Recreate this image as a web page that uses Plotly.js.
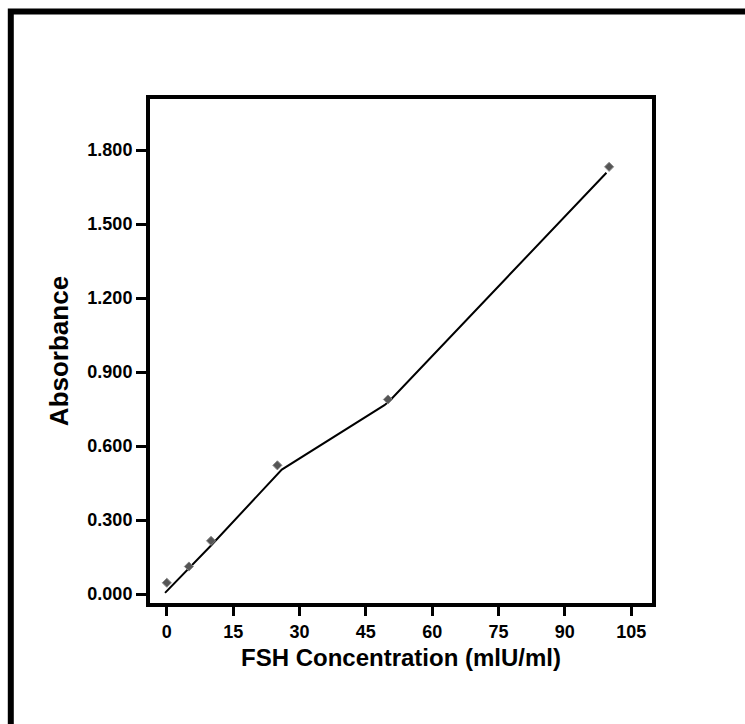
<!DOCTYPE html>
<html>
<head>
<meta charset="utf-8">
<script src="https://cdn.plot.ly/plotly-3.0.1.min.js"></script>
<style>
html,body{margin:0;padding:0;background:#fff;}
#chart{width:745px;height:724px;}
</style>
</head>
<body>
<div id="chart"></div>
<script>
// Measured standards
const concentration = [0, 5, 10, 25, 50, 100];
const absorbance = [0.046, 0.112, 0.216, 0.522, 0.789, 1.732];
// Fitted curve as drawn
const fitX = [-0.4, 10, 26, 49.2, 50.4, 99.4];
const fitY = [0.005, 0.197, 0.505, 0.766, 0.784, 1.708];
// Axis ticks
const xTicks = [0, 15, 30, 45, 60, 75, 90, 105];
const yTicks = [0, 0.3, 0.6, 0.9, 1.2, 1.5, 1.8];

const FONT = 'Liberation Sans Narrow, Arial Narrow, Liberation Sans, Arial, sans-serif';

const traces = [
  {
    x: fitX, y: fitY, mode: 'lines', type: 'scatter',
    line: {color: '#000', width: 2}, hoverinfo: 'skip', showlegend: false
  },
  {
    x: concentration, y: absorbance, mode: 'markers', type: 'scatter',
    marker: {symbol: 'diamond', size: 7, color: '#555', line: {color: '#888', width: 1}},
    showlegend: false
  }
];

const layout = {
  width: 745, height: 724,
  margin: {l: 150, r: 93, t: 99, b: 121},
  paper_bgcolor: '#fff', plot_bgcolor: '#fff',
  showlegend: false,
  font: {family: FONT, color: '#000'},
  xaxis: {
    range: [-3.8, 109.7],
    tickvals: xTicks,
    ticktext: xTicks.map(String),
    showgrid: false, zeroline: false,
    showline: true, linecolor: '#000', linewidth: 4, mirror: true,
    ticks: 'outside', ticklen: 9, tickwidth: 3, tickcolor: '#000',
    tickfont: {family: FONT, size: 18, weight: 'bold', color: '#000'},
    title: {text: 'FSH Concentration (mlU/ml)', font: {family: FONT, size: 24, weight: 'bold', color: '#000'}, standoff: 10}
  },
  yaxis: {
    range: [-0.036, 2.007],
    tickvals: yTicks,
    ticktext: yTicks.map(v => v.toFixed(3)),
    showgrid: false, zeroline: false,
    showline: true, linecolor: '#000', linewidth: 4, mirror: true,
    ticks: 'outside', ticklen: 10, tickwidth: 3, tickcolor: '#000',
    tickfont: {family: FONT, size: 18, weight: 'bold', color: '#000'},
    title: {text: 'Absorbance', font: {family: FONT, size: 26, weight: 'bold', color: '#000'}, standoff: 12}
  },
  shapes: [
    {
      type: 'path', xref: 'paper', yref: 'paper',
      path: 'M -0.2773 -0.3 L -0.2773 1.1736 L 1.3 1.1736',
      line: {color: '#000', width: 6}
    }
  ]
};

Plotly.newPlot('chart', traces, layout, {displayModeBar: false, staticPlot: true});
</script>
</body>
</html>
